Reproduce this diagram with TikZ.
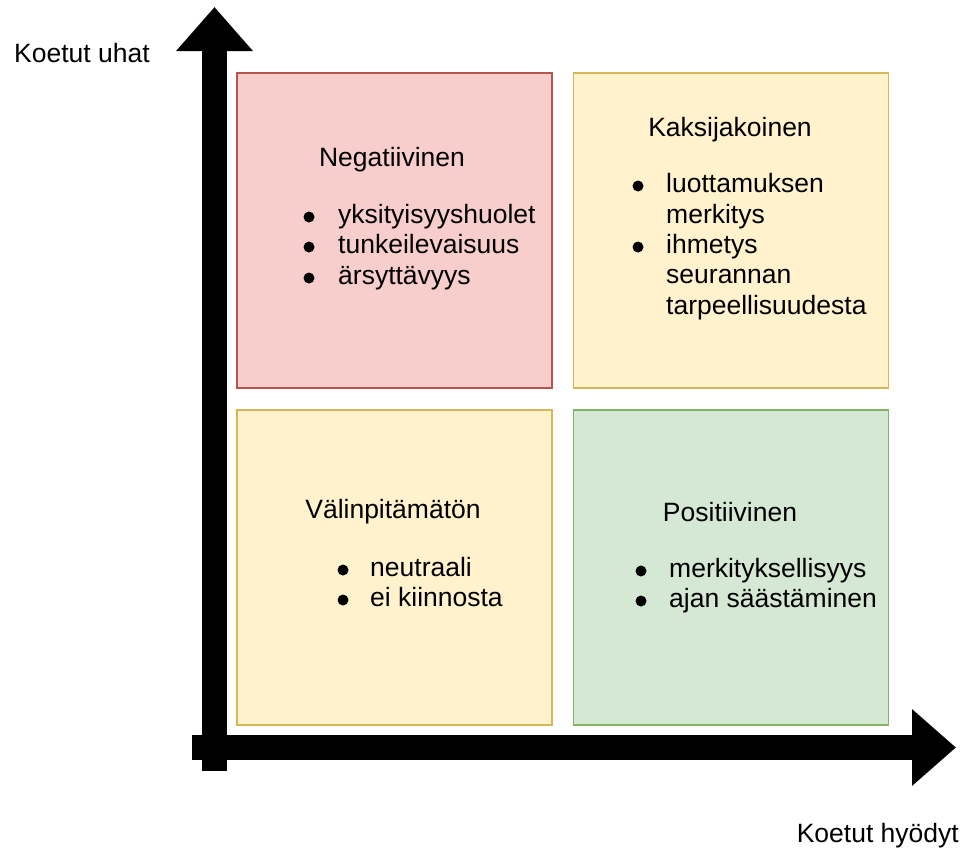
\documentclass[tikz,border=0pt]{standalone}
\usepackage{fontspec}
\setmainfont{Liberation Sans}
\usetikzlibrary{positioning, arrows.meta}

\definecolor{redfill}{HTML}{F8CECC}
\definecolor{reddraw}{HTML}{B85450}
\definecolor{yellowfill}{HTML}{FFF2CC}
\definecolor{yellowdraw}{HTML}{D6B656}
\definecolor{greenfill}{HTML}{D5E8D4}
\definecolor{greendraw}{HTML}{82B366}

\begin{document}
\begin{tikzpicture}[
            x=1pt, y=-1pt,
            every node/.style={font=\fontsize{26.5}{31}\selectfont},
            quad/.style={rectangle, line width=1.5pt, minimum width=315pt, minimum height=315pt, inner sep=0pt},
            axis/.style={line width=25pt, -{Triangle[length=44pt, width=74pt]}},
            item/.style={anchor=west, inner sep=0pt, text height=19pt, text depth=5.5pt},
            dot/.style={circle, fill=black, inner sep=0pt, minimum size=11pt},
        ]
            \useasboundingbox (0,0) rectangle (963,852);

            % Draw the four quadrants
            \node[quad, fill=redfill, draw=reddraw] (neg) at (394.5,230.5) {};
            \node[quad, fill=yellowfill, draw=yellowdraw] (dual) at (731,230.5) {};
            \node[quad, fill=yellowfill, draw=yellowdraw] (indiff) at (394.5,567.5) {};
            \node[quad, fill=greenfill, draw=greendraw] (pos) at (731,567.5) {};

            % Draw the axes
            \coordinate (y-start) at (214.5,771);
            \coordinate (y-end) at (214.5,7);
            \coordinate (x-start) at (192,747.5);
            \coordinate (x-end) at (956,747.5);
            \draw[axis] (y-start) -- (y-end);
            \draw[axis] (x-start) -- (x-end);

            % Axis labels
            \node[anchor=west, inner sep=0pt] (y-label) at (14,53) {Koetut uhat};
            \node[anchor=east, inner sep=0pt] (x-label) at (959,836) {Koetut hyödyt};

            % Quadrant titles
            \node (neg-title) at (392,160) {Negatiivinen};
            \node (dual-title) at (730,130) {Kaksijakoinen};
            \node (indiff-title) at (393,512) {Välinpitämätön};
            \node (pos-title) at (730,512) {Positiivinen};

            % Negatiivinen list
            \foreach \txt / \y in {yksityisyyshuolet/217, tunkeilevaisuus/247, ärsyttävyys/278} {
                \node[dot] at (309,\y) {};
                \node[item] at (338,\y) {\txt};
            }

            % Kaksijakoinen list
            \foreach \txt / \y in {luottamuksen/186, merkitys/217, ihmetys/247, seurannan/277, tarpeellisuudesta/308}
                \node[item] at (666,\y) {\txt};
            \foreach \y in {186, 247}
                \node[dot] at (638,\y) {};

            % Välinpitämätön list
            \foreach \txt / \y in {neutraali/570, ei kiinnosta/600} {
                \node[dot] at (343,\y) {};
                \node[item] at (370,\y) {\txt};
            }

            % Positiivinen list
            \foreach \txt / \y in {merkityksellisyys/571, ajan säästäminen/601} {
                \node[dot] at (641,\y) {};
                \node[item] at (669,\y) {\txt};
            }
        \end{tikzpicture}
\end{document}
